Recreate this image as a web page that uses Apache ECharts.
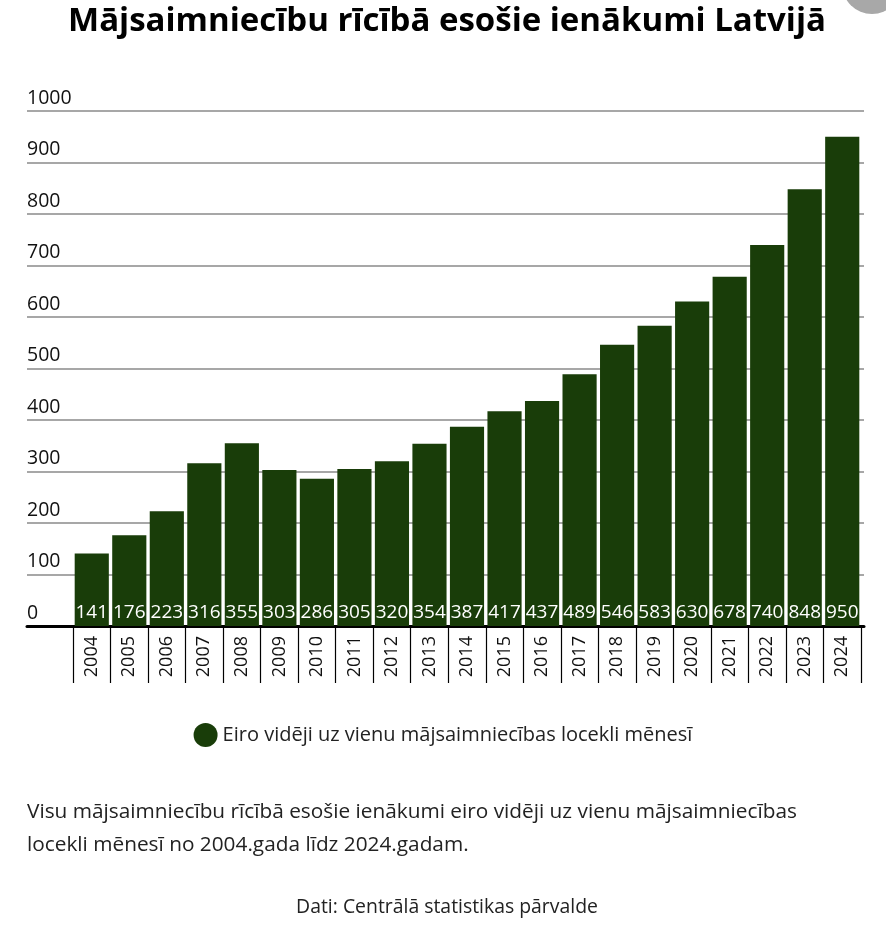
<!DOCTYPE html>
<html><head><meta charset="utf-8">
<script src="https://cdn.jsdelivr.net/npm/echarts@6/dist/echarts.min.js"></script>
<style>html,body{margin:0;padding:0;background:#fff}#c{width:886px;height:930px}</style>
</head><body><div id="c"></div>
<script>
const years = ['2004','2005','2006','2007','2008','2009','2010','2011','2012','2013','2014','2015','2016','2017','2018','2019','2020','2021','2022','2023','2024'];
const income = [141,176,223,316,355,303,286,305,320,354,387,417,437,489,546,583,630,678,740,848,950];
const seriesName = 'Eiro vidēji uz vienu mājsaimniecības locekli mēnesī';
const yTicks = [0,100,200,300,400,500,600,700,800,900,1000];

const font = '"Open Sans", "Noto Sans", sans-serif';
const barColor = '#193d09';
const chart = echarts.init(document.getElementById('c'), null, {renderer:'canvas'});
chart.setOption({
  animation:false,
  textStyle:{fontFamily:font},
  title:[
    {text:'Mājsaimniecību rīcībā esošie ienākumi Latvijā', left:447, textAlign:'center', top:5, padding:0,
     textStyle:{fontFamily:font, fontWeight:'bold', fontSize:33, color:'#000'}},
    {text:'Visu mājsaimniecību rīcībā esošie ienākumi eiro vidēji uz vienu mājsaimniecības\nlocekli mēnesī no 2004.gada līdz 2024.gadam.', left:27, top:796, padding:0,
     textStyle:{fontFamily:font, fontWeight:'normal', fontSize:20.8, lineHeight:33, color:'#222'}},
    {text:'Dati: Centrālā statistikas pārvalde', left:447, textAlign:'center', top:898, padding:0,
     textStyle:{fontFamily:font, fontWeight:'normal', fontSize:19.4, color:'#222'}}
  ],
  legend:{data:[seriesName], left:'center', top:718, icon:'circle', itemWidth:24, itemHeight:24, itemGap:10,
    textStyle:{fontFamily:font, fontSize:20, color:'#222'}},
  graphic:[{type:'circle', shape:{cx:872, cy:-16, r:30}, style:{fill:'#a8a8a8'}}],
  grid:[
    {left:27, right:22, top:111, bottom:304},
    {left:73, right:25, top:111, bottom:304}
  ],
  xAxis:[
    {gridIndex:0, type:'value', min:0, max:1, show:true, axisLabel:{show:false}, axisTick:{show:false}, splitLine:{show:false},
     axisLine:{show:true, lineStyle:{color:'#000', width:3}}},
    {gridIndex:1, type:'category', data:years, boundaryGap:true,
     axisLine:{show:false},
     axisTick:{show:true, length:57, lineStyle:{color:'#000', width:1.2}},
     axisLabel:{rotate:90, fontFamily:font, fontSize:18, color:'#111', margin:10, interval:0}}
  ],
  yAxis:[
    {gridIndex:0, type:'value', min:0, max:1000, interval:100,
     axisLine:{show:false}, axisTick:{show:false},
     axisLabel:{inside:true, align:'left', verticalAlign:'bottom', margin:0, padding:[0,0,3,0], fontFamily:font, fontSize:19.5, color:'#111',
       formatter:function(v){return String(v);}},
     splitLine:{show:true, lineStyle:{color:'#8a8a8a', width:1.5}}},
    {gridIndex:1, type:'value', min:0, max:1000, interval:100, show:false, splitLine:{show:false}}
  ],
  series:[{
    name:seriesName, type:'bar', xAxisIndex:1, yAxisIndex:1, data:income,
    barCategoryGap:'9%',
    itemStyle:{color:barColor},
    label:{show:true, position:'insideBottom', distance:4, color:'#fff', fontFamily:font, fontSize:19}
  }]
});
</script></body></html>
